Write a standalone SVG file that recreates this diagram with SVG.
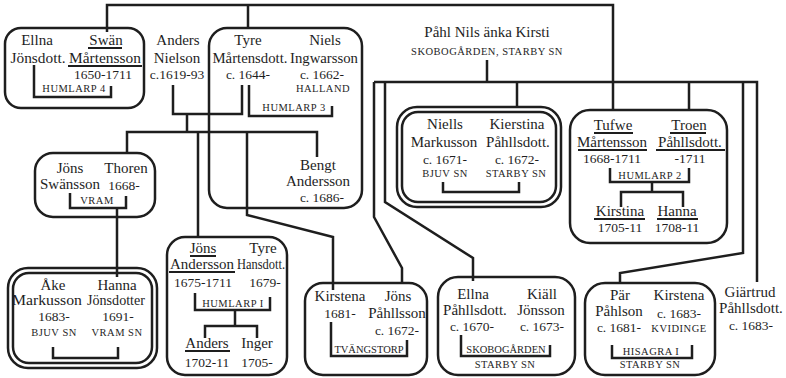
<svg xmlns="http://www.w3.org/2000/svg" width="786" height="378" viewBox="0 0 786 378">
<style>
text{font-family:"Liberation Serif","Times New Roman",serif;fill:#1e1e1e;text-anchor:middle}
.n{font-size:15px}
.d{font-size:13.5px}
.s{font-size:10.5px;letter-spacing:0.5px}
.ln{fill:none;stroke:#1e1e1e;stroke-width:2.5}
.box{fill:none;stroke:#1e1e1e;stroke-width:2.5}
.u{stroke:#1e1e1e;stroke-width:2}
</style>
<rect width="786" height="378" fill="#fff"/>
<g id="connectors" class="ln">
<path d="M107,32V5H613V110M248,5V28"/>
<path d="M374,82H757V282M487,60V82M517,82V107M689,82V110M743,82V253L620,273V284"/>
<path d="M374,82V217L402,268V283"/>
<path d="M385,82V202L473,258V281"/>
<path d="M173,85V114H242V85M187,114V132M127,153V132H317V157M198,132V238M247,132V215L333,237V290"/>
<path d="M34,65V97H111V86"/>
<path d="M249,85V116H332V106"/>
<path d="M70,193V208H126V196M117,208V277"/>
<path d="M443,182V192H519V182"/>
<path d="M610,168V182H689V168M652,182V192M621,207V192H683V207"/>
<path d="M53,347V358H118V347"/>
<path d="M195,293V310H270V297M235,310V326M205,338V326H257V338"/>
<path d="M331,322V356H407V340"/>
<path d="M461,335V356H550V345"/>
<path d="M612,345V358H692V345"/>
</g>
<g id="swan">
<rect class="box" x="5" y="28" width="139" height="80" rx="16"/>
<text class="n" x="37" y="45">Ellna</text>
<text class="n" x="106" y="45">Swän</text>
<text class="n" x="38" y="63" textLength="55" lengthAdjust="spacingAndGlyphs">Jönsdott.</text>
<text class="n" x="105" y="63" textLength="72" lengthAdjust="spacingAndGlyphs">Mårtensson</text>
<line class="u" x1="88" y1="48" x2="122" y2="48"/>
<line class="u" x1="68" y1="66" x2="142" y2="66"/>
<text class="d" x="103" y="79">1650-1711</text>
<text class="s" x="74" y="92">HUMLARP 4</text>
</g>
<g id="anders">
<text class="n" x="178" y="45">Anders</text>
<text class="n" x="177" y="63">Nielson</text>
<text class="d" x="177" y="79">c.1619-93</text>
</g>
<g id="tyre">
<rect class="box" x="209" y="28" width="153" height="180" rx="18"/>
<text class="n" x="248" y="45">Tyre</text>
<text class="n" x="250" y="63" textLength="75" lengthAdjust="spacingAndGlyphs">Mårtensdott.</text>
<text class="d" x="248" y="79">c. 1644-</text>
<text class="n" x="325" y="45">Niels</text>
<text class="n" x="324" y="63" textLength="68" lengthAdjust="spacingAndGlyphs">Ingwarsson</text>
<text class="d" x="322" y="79">c. 1662-</text>
<text class="s" x="323" y="92">HALLAND</text>
<text class="s" x="294" y="111">HUMLARP 3</text>
</g>
<g id="bengt">
<text class="n" x="318" y="170">Bengt</text>
<text class="n" x="318" y="186">Andersson</text>
<text class="d" x="322" y="202">c. 1686-</text>
</g>
<g id="pahl">
<text class="n" x="487" y="37">Påhl Nils änka Kirsti</text>
<text class="s" x="487" y="55">SKOBOGÅRDEN, STARBY SN</text>
</g>
<g id="niells">
<rect class="box" x="397" y="107" width="164" height="100" rx="20"/>
<rect class="box" x="402" y="112" width="154" height="90" rx="16"/>
<text class="n" x="445" y="129">Niells</text>
<text class="n" x="444" y="147">Markusson</text>
<text class="n" x="517" y="129">Kierstina</text>
<text class="n" x="518" y="147">Påhllsdott.</text>
<text class="d" x="445" y="164">c. 1671-</text>
<text class="d" x="517" y="164">c. 1672-</text>
<text class="s" x="445" y="177">BJUV SN</text>
<text class="s" x="516" y="177">STARBY SN</text>
</g>
<g id="tufwe">
<rect class="box" x="570" y="110" width="157" height="133" rx="20"/>
<text class="n" x="613" y="130">Tufwe</text>
<text class="n" x="612" y="147">Mårtensson</text>
<text class="n" x="689" y="130">Troen</text>
<text class="n" x="690" y="147">Påhllsdott.</text>
<line class="u" x1="594" y1="133" x2="633" y2="133"/>
<line class="u" x1="578" y1="150" x2="647" y2="150"/>
<line class="u" x1="670" y1="133" x2="706" y2="133"/>
<line class="u" x1="656" y1="150" x2="725" y2="150"/>
<text class="d" x="612" y="163">1668-1711</text>
<text class="d" x="690" y="163">-1711</text>
<text class="s" x="650" y="179">HUMLARP 2</text>
<text class="n" x="620" y="216">Kirstina</text>
<text class="n" x="677" y="216">Hanna</text>
<line class="u" x1="594" y1="219" x2="645" y2="219"/>
<line class="u" x1="657" y1="219" x2="698" y2="219"/>
<text class="d" x="620" y="232">1705-11</text>
<text class="d" x="677" y="232">1708-11</text>
</g>
<g id="jons-swansson">
<rect class="box" x="35" y="153" width="120" height="64" rx="18"/>
<text class="n" x="70" y="173">Jöns</text>
<text class="n" x="70" y="189">Swänsson</text>
<text class="n" x="126" y="173">Thoren</text>
<text class="d" x="124" y="190">1668-</text>
<text class="s" x="97" y="204">VRAM</text>
</g>
<g id="ake">
<rect class="box" x="8" y="268" width="149" height="100" rx="20"/>
<rect class="box" x="13" y="273" width="139" height="90" rx="16"/>
<text class="n" x="53" y="290">Åke</text>
<text class="n" x="47" y="305" textLength="70" lengthAdjust="spacingAndGlyphs">Markusson</text>
<text class="n" x="117" y="290">Hanna</text>
<text class="n" x="116" y="305" textLength="58" lengthAdjust="spacingAndGlyphs">Jönsdotter</text>
<text class="d" x="54" y="321">1683-</text>
<text class="d" x="118" y="321">1691-</text>
<text class="s" x="54" y="336">BJUV SN</text>
<text class="s" x="117" y="336">VRAM SN</text>
</g>
<g id="jons-andersson">
<rect class="box" x="167" y="237" width="120" height="138" rx="18"/>
<text class="n" x="203" y="253">Jöns</text>
<text class="n" x="202" y="269" textLength="64" lengthAdjust="spacingAndGlyphs">Andersson</text>
<line class="u" x1="190" y1="256" x2="216" y2="256"/>
<line class="u" x1="169" y1="272" x2="235" y2="272"/>
<text class="n" x="263" y="253">Tyre</text>
<text class="n" x="261" y="269" textLength="48" lengthAdjust="spacingAndGlyphs">Hansdott.</text>
<text class="d" x="203" y="287">1675-1711</text>
<text class="d" x="265" y="287">1679-</text>
<text class="s" x="233" y="307">HUMLARP I</text>
<text class="n" x="207" y="348">Anders</text>
<line class="u" x1="185" y1="351" x2="230" y2="351"/>
<text class="n" x="257" y="348">Inger</text>
<text class="d" x="207" y="367">1702-11</text>
<text class="d" x="257" y="367">1705-</text>
</g>
<g id="kirstena">
<rect class="box" x="305" y="283" width="122" height="92" rx="18"/>
<text class="n" x="340" y="301">Kirstena</text>
<text class="d" x="340" y="318">1681-</text>
<text class="n" x="398" y="301">Jöns</text>
<text class="n" x="397" y="318">Påhllsson</text>
<text class="d" x="397" y="335">c. 1672-</text>
<text class="s" x="369" y="353" style="letter-spacing:0">TVÄNGSTORP</text>
</g>
<g id="ellna">
<rect class="box" x="438" y="277" width="137" height="98" rx="20"/>
<text class="n" x="473" y="299">Ellna</text>
<text class="n" x="475" y="315">Påhllsdott.</text>
<text class="n" x="542" y="299">Kiäll</text>
<text class="n" x="541" y="315">Jönsson</text>
<text class="d" x="472" y="331">c. 1670-</text>
<text class="d" x="542" y="331">c. 1673-</text>
<text class="s" x="506" y="353" style="letter-spacing:0">SKOBOGÅRDEN</text>
<text class="s" x="505" y="368">STARBY SN</text>
</g>
<g id="par">
<rect class="box" x="585" y="283" width="130" height="92" rx="20"/>
<text class="n" x="620" y="300">Pär</text>
<text class="n" x="619" y="316">Påhlson</text>
<text class="n" x="679" y="300">Kirstena</text>
<text class="d" x="679" y="318">c. 1683-</text>
<text class="d" x="619" y="332">c. 1681-</text>
<text class="s" x="679" y="332">KVIDINGE</text>
<text class="s" x="651" y="355">HISAGRA I</text>
<text class="s" x="650" y="368">STARBY SN</text>
</g>
<g id="giartrud">
<text class="n" x="750" y="297">Giärtrud</text>
<text class="n" x="751" y="313">Påhllsdott.</text>
<text class="d" x="751" y="330">c. 1683-</text>
</g>
</svg>
